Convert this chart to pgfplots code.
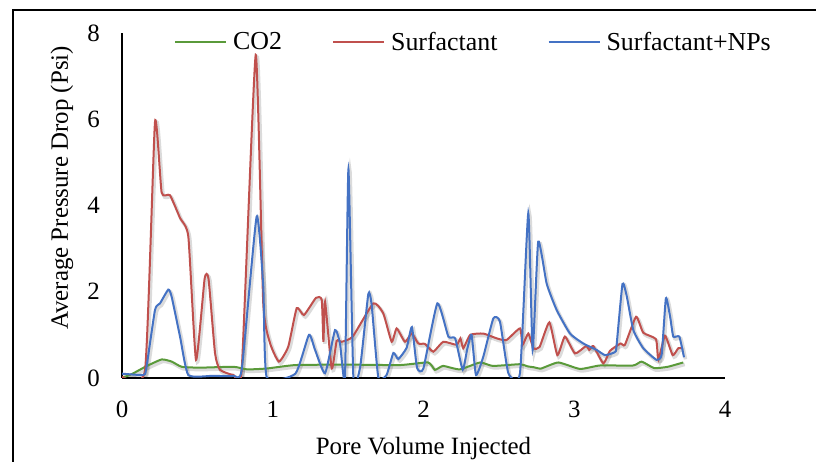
\documentclass[border=0pt]{standalone}
\usepackage{fontspec}
\setmainfont{Liberation Serif}
\usepackage{pgfplots}
\usepackage{pgfplotstable}
\pgfplotsset{compat=1.18}
\definecolor{cgreen}{HTML}{5A9A3A}
\definecolor{cred}{HTML}{C0504D}
\definecolor{cblue}{HTML}{4472C4}

\pgfplotstableread{
x y
0 0.0
0.07 0.1
0.16 0.27
0.263 0.43
0.33 0.38
0.396 0.26
0.52 0.24
0.74 0.26
0.83 0.2
0.96 0.22
1.15 0.3
1.5 0.31
1.844 0.30
2.03 0.36
2.076 0.19
2.13 0.28
2.24 0.2
2.375 0.36
2.46 0.28
2.64 0.32
2.69 0.27
2.73 0.25
2.78 0.22
2.894 0.36
3.038 0.21
3.17 0.29
3.39 0.29
3.447 0.38
3.53 0.23
3.62 0.26
3.723 0.36
}\cotwo

\pgfplotstableread{
x y
0 0.03
0.153 0.19
0.219 5.94
0.263 4.30
0.318 4.24
0.385 3.71
0.44 3.28
0.491 0.42
0.548 2.30
0.574 2.30
0.617 0.58
0.65 0.19
0.74 0.07
0.794 0.19
0.887 7.49
0.937 1.73
0.982 0.81
1.041 0.38
1.103 0.73
1.159 1.62
1.207 1.46
1.287 1.86
1.325 1.81
1.336 0.84
1.347 1.77
1.391 0.22
1.424 0.86
1.457 0.84
1.53 0.96
1.667 1.73
1.733 1.50
1.789 0.84
1.822 1.15
1.877 0.84
1.922 1.03
1.966 0.80
2.01 0.79
2.065 0.61
2.131 0.84
2.22 0.77
2.245 0.92
2.264 0.69
2.31 1.0
2.397 1.03
2.485 0.92
2.55 0.88
2.64 1.15
2.657 0.77
2.695 1.03
2.73 0.69
2.77 0.72
2.835 1.29
2.888 0.53
2.938 0.96
3.005 0.57
3.078 0.74
3.10 0.65
3.127 0.74
3.193 0.34
3.237 0.63
3.307 0.80
3.336 0.77
3.41 1.42
3.458 1.05
3.542 0.90
3.558 0.42
3.602 0.98
3.653 0.53
3.69 0.69
3.719 0.69
}\surf

\pgfplotstableread{
x y
0 0.1
0.141 0.07
0.16 0.2
0.219 1.58
0.252 1.73
0.307 2.05
0.329 1.89
0.385 0.96
0.44 0.07
0.6 0.05
0.74 0.05
0.794 0.19
0.893 3.74
0.937 2.13
0.96 0.02
1.15 0.1
1.24 1.0
1.28 0.66
1.347 0.11
1.413 1.11
1.446 0.8
1.479 0.0
1.502 4.84
1.535 0.0
1.58 0.26
1.634 1.95
1.656 1.7
1.70 0.02
1.755 0.07
1.80 0.58
1.833 0.44
1.888 0.7
1.923 1.18
1.957 0.24
1.999 0.22
2.092 1.73
2.165 0.96
2.21 0.92
2.26 0.19
2.29 0.67
2.319 1.0
2.348 0.07
2.397 0.5
2.463 1.38
2.507 1.31
2.563 0.11
2.64 0.11
2.695 3.82
2.724 0.65
2.761 3.16
2.817 2.19
2.883 1.58
2.972 1.03
3.06 0.80
3.149 0.65
3.204 0.53
3.27 0.6
3.28 0.73
3.32 2.18
3.348 1.9
3.392 1.11
3.458 0.69
3.546 0.42
3.58 0.55
3.608 1.85
3.636 1.42
3.657 0.96
3.697 0.96
3.728 0.48
}\surfnp

\begin{document}
\begin{tikzpicture}
\path[use as bounding box] (0,0) rectangle (816bp,462bp);
\draw[line width=1.5bp] (13bp,-5bp) -- (13bp,452bp) -- (821bp,452bp);
\begin{axis}[
  at={(122bp,84bp)}, anchor=south west,
  scale only axis, width=603bp, height=345bp,
  xmin=0, xmax=4, ymin=0, ymax=8,
  xtick={0,1,2,3,4}, ytick={0,2,4,6,8},
  axis x line=bottom, axis y line=left,
  axis line style={-, line width=1.5bp, black},
  major tick length=0pt,
  font=\fontsize{25}{30}\selectfont,
  /pgf/number format/assume math mode=true,
  yticklabel style={anchor=east, inner sep=0pt, xshift=-22bp},
  xticklabel style={anchor=north, inner sep=0pt, yshift=-23bp},
  every axis x label/.style={at={(rel axis cs:0.5,-0.203)}, anchor=center},
  every axis y label/.style={at={(rel axis cs:-0.0995,0.551)}, rotate=90, anchor=center},
  xlabel={Pore Volume Injected},
  ylabel={Average Pressure Drop (Psi)},
  legend columns=3,
  legend style={at={(rel axis cs:0.0862,0.974)}, anchor=west, draw=none, fill=none,
    inner sep=0pt, font=\fontsize{26}{30}\selectfont,
    nodes={inner sep=0pt},
    /tikz/every odd column/.append style={column sep=6bp},
    /tikz/every even column/.append style={column sep=50bp}},
  legend image code/.code={\draw[#1] (0bp,0bp) -- (51bp,0bp);},
  every axis plot/.append style={line width=2bp, smooth, tension=0.3},
]
\addplot[black, opacity=0.14, line width=3.5bp, shift={(1.5bp,-2bp)}, forget plot] table {\cotwo};
\addplot[black, opacity=0.14, line width=3.5bp, shift={(1.5bp,-2bp)}, forget plot] table {\surf};
\addplot[black, opacity=0.14, line width=3.5bp, shift={(1.5bp,-2bp)}, forget plot] table {\surfnp};
\addplot[cgreen] table {\cotwo};
\addlegendentry{CO2}
\addplot[cred] table {\surf};
\addlegendentry{Surfactant}
\addplot[cblue] table {\surfnp};
\addlegendentry{Surfactant+NPs}
\end{axis}
\end{tikzpicture}
\end{document}
